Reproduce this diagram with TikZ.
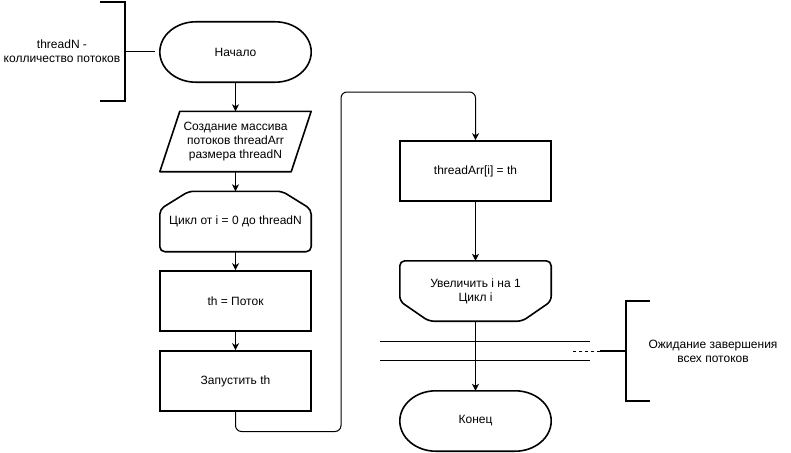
\documentclass[tikz,border=0pt]{standalone}
\usepackage{fontspec}
\setmainfont{Liberation Sans}
\usetikzlibrary{calc,arrows.meta}
\newcommand{\mytermshape}[1]{%
  \draw[shp] ($(#1.north west)+(36,0)$) -- ($(#1.north east)+(-36,0)$)
    .. controls +(19.9,0) and +(0,-16.6) .. (#1.east)
    .. controls +(0,16.6) and +(19.9,0) .. ($(#1.south east)+(-36,0)$)
    -- ($(#1.south west)+(36,0)$)
    .. controls +(-19.9,0) and +(0,16.6) .. (#1.west)
    .. controls +(0,-16.6) and +(-19.9,0) .. ($(#1.north west)+(36,0)$) -- cycle;}
\begin{document}
\begin{tikzpicture}[x=1pt,y=-1pt,
  txt/.style={font=\fontsize{12}{14}\selectfont, align=center, inner sep=0pt},
  blk/.style={txt, minimum width=151pt, minimum height=60pt},
  shp/.style={line width=1.6pt, line join=round},
  boxed/.style={blk, draw, line width=1.6pt},
  conn/.style={line width=1pt},
  arr/.style={conn, -{Stealth[length=7pt,width=7pt,inset=2pt]}},
  brk/.style={line width=1.6pt}
]
\useasboundingbox (0,0) rectangle (791,452);

% left column
\node[blk] (start) at (235.5,52) {Начало};
\mytermshape{start}
\node[blk] (para) at (235.5,141.5) {Создание массива\\потоков threadArr\\размера threadN};
\draw[shp] ($(para.north west)+(20,0)$) -- (para.north east) -- ($(para.south east)+(-20,0)$) -- (para.south west) -- cycle;
\node[blk] (loop) at (235.5,221.5) {Цикл от i = 0 до threadN};
\draw[shp, rounded corners=5pt] ($(loop.north west)+(29,0)$) -- ($(loop.north east)+(-29,0)$) -- ($(loop.north east)+(0,18)$) -- (loop.south east) -- (loop.south west) -- ($(loop.north west)+(0,18)$) -- cycle;
\node[boxed] (th) at (235.5,301) {th = Поток};
\node[boxed] (run) at (235.5,381) {Запустить th};

% right column
\node[boxed] (set) at (475.5,171) {threadArr[i] = th};
\node[blk] (inc) at (475.5,291) {Увеличить i на 1\\Цикл i};
\draw[shp, rounded corners=5pt] (inc.north west) -- (inc.north east) -- ($(inc.south east)+(0,-20)$) -- ($(inc.south east)+(-29,0)$) -- ($(inc.south west)+(29,0)$) -- ($(inc.south west)+(0,-20)$) -- cycle;
\node[blk] (end) at (475.5,421) {Конец};
\mytermshape{end}

% arrows
\draw[arr] (start) -- (para);
\draw[arr] (para) -- (loop);
\draw[arr] (loop) -- (th);
\draw[arr] (th) -- (run);
\coordinate (c1) at (341,431.5);
\coordinate (c2) at (341,92);
\draw[arr, rounded corners=6pt] (run.south) |- (c1) -- (c2) -| (set.north);
\draw[arr] (set) -- (inc);
\draw[arr] (inc) -- (end);

% synchronisation lines
\draw[conn] (380,341) -- (590,341);
\draw[conn] (380,360) -- (590,360);

% left annotation
\node[txt] (note1) at (62,51) {threadN -\\колличество потоков};
\draw[brk] (100,2) -- (125,2) -- (125,101) -- (100,101);
\draw[brk] (125,51.5) -- (155,51.5);

% right annotation
\node[txt] (note2) at (713,351) {Ожидание завершения\\всех потоков};
\draw[brk] (650,301) -- (626,301) -- (626,401) -- (650,401);
\draw[brk] (626,351) -- (600,351);
\draw[conn, dashed] (600,351) -- (573,351);
\end{tikzpicture}
\end{document}
